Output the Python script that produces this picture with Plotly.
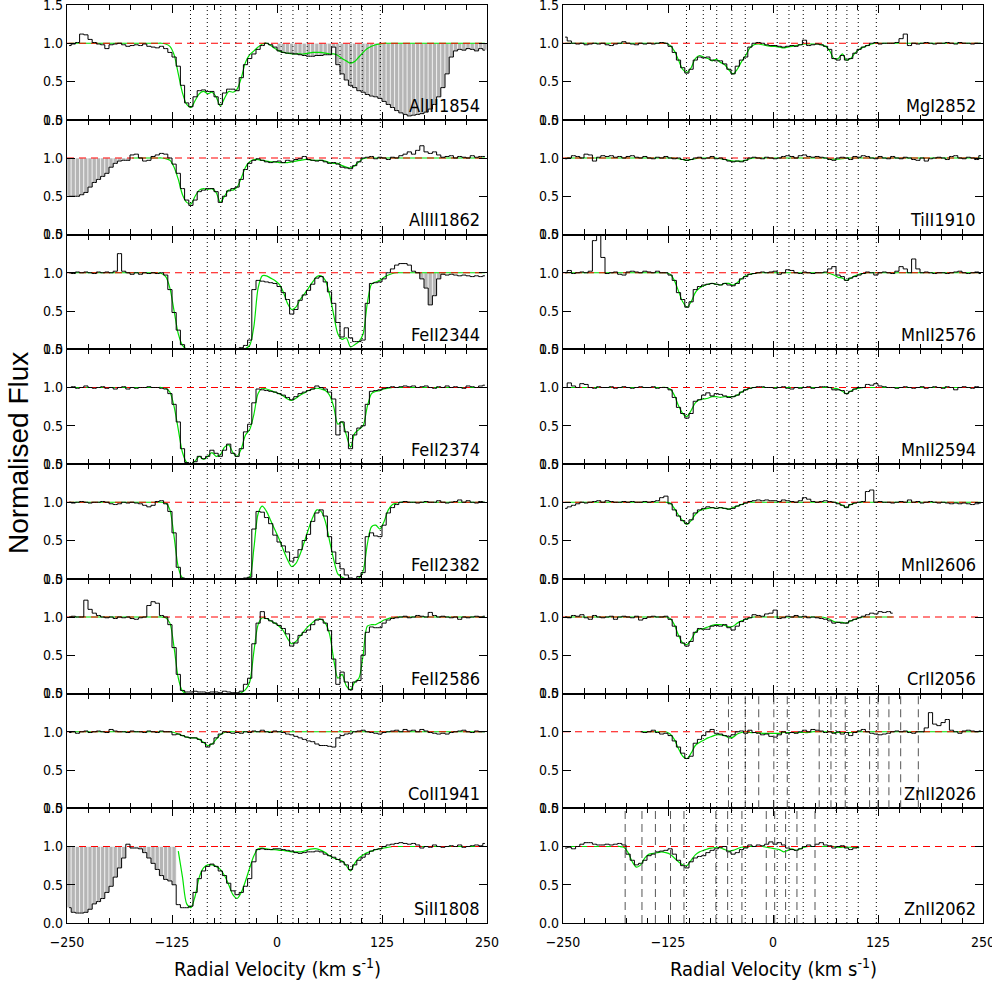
import plotly.graph_objects as go

# ---------------- data ----------------
BIN_WIDTH = 5.0
N_BINS = 100
vel = [-247.5 + BIN_WIDTH * i for i in range(N_BINS)]   # bin centres (km/s)

ONE = [1.0] * 10
NONE = [None] * 10

# component velocities (dotted lines)
components = [-103, -83, -67, -49, -33, 5, 19, 36, 65, 75, 88, 101.5, 123]
# blended-line component velocities (dashed lines) in the Zn panels
zn2026_blend_lines = [-53, -33, -17, 1, 17, 55, 69, 86, 115, 125, 138, 152, 173]
zn2062_blend_lines = [-176, -156, -140, -122, -106, -68, -54, -37, -8, 2, 15, 28.5, 50]

# ---- left column ----
al1854_flux = [
    0.97, 0.99, 1.01, 1.12, 1.11, 1.05, 1.01, 0.99, 0.98, 0.93,
    0.98, 0.99, 1.00, 0.98, 0.96, 0.97, 0.98, 0.97, 0.99, 0.96,
    0.95, 0.94, 0.96, 0.93, 0.88, 0.82, 0.70, 0.45, 0.22, 0.17,
    0.30, 0.38, 0.39, 0.37, 0.37, 0.30, 0.20, 0.35, 0.40, 0.40,
    0.38, 0.55, 0.72, 0.80, 0.86, 0.92, 0.97, 1.00, 0.98, 0.95,
    0.90, 0.88, 0.87, 0.87, 0.86, 0.85, 0.84, 0.83, 0.83, 0.84,
    0.84, 0.85, 0.85, 0.95, 0.72, 0.60, 0.52, 0.45, 0.42, 0.38,
    0.36, 0.33, 0.31, 0.30, 0.28, 0.24, 0.20, 0.16, 0.12, 0.09,
    0.07, 0.05, 0.06, 0.07, 0.08, 0.10, 0.14, 0.20, 0.30, 0.42,
    0.60, 0.82, 0.90, 0.92, 0.91, 0.93, 0.92, 0.90, 0.93, 0.91]
al1854_fit = ONE + ONE + [
    1.00, 1.00, 1.00, 0.99, 0.96, 0.85, 0.60, 0.35, 0.20, 0.16,
    0.25, 0.34, 0.37, 0.34, 0.36, 0.30, 0.18, 0.28, 0.37, 0.36,
    0.40, 0.55, 0.75, 0.85, 0.90, 0.95, 0.99, 1.00, 0.97, 0.93,
    0.90, 0.88, 0.87, 0.86, 0.86, 0.86, 0.86, 0.87, 0.88, 0.88,
    0.88, 0.87, 0.86, 0.86, 0.84, 0.80, 0.77, 0.74, 0.76, 0.82,
    0.88, 0.93, 0.96, 0.98, 0.99, 1.00, 1.00, 1.00, 1.00, 1.00] + ONE + ONE
al1854_blend = (0, 250)

al1862_flux = [
    0.50, 0.50, 0.50, 0.52, 0.55, 0.62, 0.68, 0.72, 0.76, 0.80,
    0.88, 0.93, 0.96, 0.97, 0.97, 1.04, 1.05, 1.00, 0.96, 0.97,
    1.02, 1.04, 1.06, 1.05, 1.00, 0.92, 0.80, 0.60, 0.45, 0.38,
    0.45, 0.56, 0.58, 0.60, 0.60, 0.56, 0.42, 0.50, 0.57, 0.60,
    0.62, 0.72, 0.85, 0.93, 0.97, 0.99, 0.97, 0.95, 0.94, 0.95,
    0.96, 0.94, 0.97, 0.96, 0.98, 0.99, 1.02, 0.98, 0.97, 0.96,
    0.97, 0.95, 0.93, 0.94, 0.92, 0.88, 0.87, 0.86, 0.90, 0.95,
    1.00, 1.01, 1.02, 0.99, 1.01, 1.00, 0.98, 1.01, 1.00, 1.03,
    1.05, 1.08, 1.05, 1.10, 1.16, 1.08, 1.06, 1.08, 1.04, 1.01,
    1.02, 1.03, 1.00, 1.02, 1.01, 1.00, 1.03, 1.01, 1.02, 1.02]
al1862_fit = NONE + [
    None, None, None, None, None, 1.00, 1.00, 1.00, 1.00, 1.00,
    1.00, 1.00, 1.00, 0.99, 0.97, 0.88, 0.72, 0.52, 0.42, 0.40,
    0.50, 0.58, 0.60, 0.59, 0.60, 0.55, 0.42, 0.50, 0.58, 0.58,
    0.62, 0.74, 0.88, 0.95, 0.98, 0.98, 0.97, 0.96, 0.95, 0.95,
    0.94, 0.94, 0.94, 0.95, 0.96, 0.97, 0.98, 0.98, 0.97, 0.97,
    0.97, 0.96, 0.94, 0.93, 0.93, 0.90, 0.88, 0.87, 0.90, 0.95,
    0.99, 1.00, 1.00, 1.00, 1.00, 1.00, 1.00, 1.00, 1.00, 1.00] + ONE + ONE
al1862_blend = (-250, -175)

fe2344_flux = [
    1.00, 0.99, 1.01, 1.00, 1.01, 1.00, 0.99, 1.01, 1.00, 1.01,
    1.00, 1.02, 1.25, 1.02, 1.00, 0.98, 1.00, 0.98, 1.00, 0.99,
    1.00, 0.99, 1.00, 0.97, 0.78, 0.48, 0.25, 0.06, 0.00, 0.00,
    0.00, 0.00, 0.00, 0.00, 0.00, 0.00, 0.00, 0.00, 0.00, 0.00,
    0.00, 0.02, 0.05, 0.12, 0.78, 0.90, 0.89, 0.88, 0.87, 0.86,
    0.82, 0.74, 0.65, 0.46, 0.52, 0.64, 0.71, 0.77, 0.85, 0.93,
    0.95, 0.88, 0.75, 0.60, 0.35, 0.16, 0.28, 0.15, 0.10, 0.10,
    0.12, 0.60, 0.86, 0.87, 0.88, 0.92, 1.00, 1.05, 1.10, 1.12,
    1.12, 1.10, 1.02, 1.00, 0.92, 0.80, 0.58, 0.70, 0.92, 0.98,
    0.97, 0.98, 0.97, 0.96, 0.97, 0.96, 0.95, 0.96, 0.95, 0.96]
fe2344_fit = ONE + ONE + [
    1.00, 1.00, 0.99, 0.95, 0.80, 0.50, 0.20, 0.05, 0.00, 0.00,
    0.00, 0.00, 0.00, 0.00, 0.00, 0.00, 0.00, 0.00, 0.00, 0.00,
    0.00, 0.00, 0.01, 0.05, 0.30, 0.80, 0.96, 0.96, 0.93, 0.90,
    0.85, 0.75, 0.60, 0.52, 0.55, 0.65, 0.72, 0.80, 0.88, 0.95,
    0.96, 0.90, 0.72, 0.45, 0.20, 0.13, 0.15, 0.03, 0.06, 0.10,
    0.20, 0.60, 0.85, 0.88, 0.90, 0.94, 0.97, 0.99, 1.00, 1.00] + ONE + ONE
fe2344_blend = (165, 200)

fe2374_flux = [
    1.00, 1.01, 0.99, 1.00, 1.02, 1.00, 0.99, 1.00, 1.01, 0.99,
    1.00, 0.98, 1.00, 1.01, 0.98, 1.00, 0.99, 1.00, 1.00, 1.01,
    1.00, 1.00, 0.99, 0.98, 0.92, 0.78, 0.55, 0.20, 0.02, 0.00,
    0.03, 0.10, 0.07, 0.10, 0.18, 0.14, 0.10, 0.18, 0.26, 0.14,
    0.10, 0.20, 0.42, 0.52, 0.80, 0.98, 0.97, 0.96, 0.95, 0.94,
    0.92, 0.90, 0.87, 0.84, 0.88, 0.92, 0.94, 0.96, 0.98, 1.02,
    1.00, 0.98, 0.94, 0.85, 0.38, 0.55, 0.42, 0.20, 0.38, 0.47,
    0.50, 0.78, 0.95, 0.96, 0.97, 0.99, 1.00, 1.01, 1.00, 1.01,
    1.02, 1.01, 1.02, 1.00, 1.01, 1.02, 1.00, 0.99, 1.01, 1.00,
    1.02, 1.00, 1.01, 1.00, 0.99, 1.02, 1.01, 1.00, 1.02, 1.03]
fe2374_fit = ONE + ONE + [
    1.00, 1.00, 1.00, 0.99, 0.94, 0.75, 0.45, 0.15, 0.02, 0.00,
    0.04, 0.10, 0.06, 0.10, 0.15, 0.10, 0.12, 0.22, 0.25, 0.15,
    0.10, 0.20, 0.38, 0.45, 0.65, 0.92, 0.99, 0.98, 0.96, 0.94,
    0.92, 0.89, 0.85, 0.83, 0.86, 0.90, 0.93, 0.96, 0.98, 0.99,
    0.98, 0.96, 0.90, 0.75, 0.52, 0.55, 0.38, 0.22, 0.40, 0.45,
    0.50, 0.75, 0.92, 0.95, 0.96, 0.98, 0.99, 1.00, 1.00, 1.00] + ONE + ONE

fe2382_flux = [
    1.00, 0.99, 1.00, 1.01, 1.00, 0.99, 1.00, 1.00, 1.01, 1.00,
    0.98, 0.97, 0.98, 1.00, 0.99, 1.00, 0.99, 0.98, 0.96, 0.94,
    0.96, 1.01, 1.02, 0.98, 0.88, 0.60, 0.15, 0.01, 0.00, 0.00,
    0.00, 0.00, 0.00, 0.00, 0.00, 0.00, 0.00, 0.00, 0.00, 0.00,
    0.00, 0.00, 0.01, 0.02, 0.65, 0.88, 0.87, 0.80, 0.72, 0.57,
    0.48, 0.43, 0.35, 0.23, 0.28, 0.38, 0.50, 0.58, 0.75, 0.86,
    0.90, 0.82, 0.55, 0.35, 0.20, 0.13, 0.05, 0.01, 0.00, 0.03,
    0.08, 0.55, 0.60, 0.56, 0.55, 0.70, 0.86, 0.93, 0.97, 1.00,
    1.01, 1.00, 1.00, 0.99, 1.00, 1.01, 1.00, 1.00, 1.02, 1.00,
    0.99, 1.00, 1.01, 1.03, 1.00, 1.02, 1.00, 0.99, 1.01, 1.00]
fe2382_fit = ONE + ONE + [
    1.00, 1.00, 1.00, 0.99, 0.90, 0.55, 0.15, 0.01, 0.00, 0.00,
    0.00, 0.00, 0.00, 0.00, 0.00, 0.00, 0.00, 0.00, 0.00, 0.00,
    0.00, 0.00, 0.00, 0.02, 0.40, 0.85, 0.95, 0.88, 0.76, 0.64,
    0.52, 0.38, 0.25, 0.16, 0.20, 0.32, 0.48, 0.65, 0.80, 0.90,
    0.88, 0.75, 0.50, 0.25, 0.06, 0.02, 0.00, 0.00, 0.00, 0.01,
    0.10, 0.45, 0.68, 0.70, 0.65, 0.75, 0.90, 0.97, 0.99, 1.00] + ONE + ONE

fe2586_flux = [
    1.00, 1.01, 1.00, 1.00, 1.22, 1.10, 1.05, 1.02, 1.00, 0.99,
    1.00, 0.98, 1.00, 0.99, 1.00, 0.98, 0.97, 0.99, 1.00, 1.15,
    1.20, 1.18, 1.02, 1.00, 0.90, 0.60, 0.25, 0.04, 0.02, 0.02,
    0.03, 0.02, 0.02, 0.01, 0.02, 0.02, 0.01, 0.03, 0.02, 0.01,
    0.01, 0.03, 0.12, 0.20, 0.65, 0.92, 1.07, 0.98, 0.95, 0.92,
    0.89, 0.85, 0.78, 0.62, 0.66, 0.76, 0.80, 0.83, 0.90, 0.96,
    0.97, 0.92, 0.82, 0.45, 0.12, 0.28, 0.15, 0.05, 0.15, 0.17,
    0.50, 0.80, 0.87, 0.86, 0.86, 0.92, 0.96, 0.98, 0.99, 1.00,
    1.01, 0.99, 1.00, 1.02, 1.01, 1.00, 1.06, 1.02, 1.00, 1.01,
    1.00, 0.99, 1.00, 0.97, 1.00, 0.99, 1.00, 1.01, 1.00, 1.01]
fe2586_fit = ONE + ONE + [
    1.00, 1.00, 1.00, 0.99, 0.92, 0.60, 0.20, 0.03, 0.00, 0.00,
    0.00, 0.00, 0.00, 0.00, 0.00, 0.00, 0.00, 0.00, 0.00, 0.00,
    0.00, 0.01, 0.05, 0.15, 0.55, 0.90, 0.99, 0.98, 0.95, 0.92,
    0.88, 0.82, 0.72, 0.65, 0.68, 0.75, 0.82, 0.88, 0.93, 0.97,
    0.97, 0.92, 0.78, 0.45, 0.20, 0.25, 0.10, 0.05, 0.15, 0.20,
    0.50, 0.88, 0.90, 0.90, 0.93, 0.96, 0.98, 0.99, 1.00, 1.00] + ONE + ONE

co1941_flux = [
    0.99, 1.00, 0.98, 1.00, 1.01, 0.99, 1.00, 1.01, 1.00, 0.99,
    1.03, 1.01, 1.00, 1.00, 0.99, 1.01, 1.00, 1.00, 0.99, 1.01,
    1.00, 0.99, 1.01, 1.00, 1.00, 0.96, 0.97, 0.95, 0.93, 0.92,
    0.92, 0.90, 0.86, 0.80, 0.84, 0.92, 0.97, 1.00, 0.99, 0.98,
    0.99, 0.98, 1.00, 0.99, 1.01, 1.00, 1.02, 1.00, 0.99, 1.01,
    1.00, 0.99, 0.97, 0.96, 0.94, 0.92, 0.90, 0.88, 0.87, 0.84,
    0.82, 0.82, 0.81, 0.80, 0.92, 0.95, 0.97, 0.98, 1.00, 1.01,
    1.02, 1.00, 0.99, 0.98, 0.97, 0.99, 1.00, 1.01, 1.02, 1.00,
    1.03, 1.01, 1.02, 1.00, 1.03, 1.01, 0.99, 0.98, 0.97, 0.98,
    0.97, 0.99, 1.00, 1.01, 1.02, 1.00, 0.99, 1.01, 1.00, 1.00]
co1941_fit = ONE + ONE + [
    1.00, 1.00, 1.00, 1.00, 1.00, 0.99, 0.97, 0.95, 0.93, 0.92,
    0.92, 0.90, 0.86, 0.82, 0.84, 0.90, 0.96, 0.99, 1.00, 1.00] + ONE * 6

si1808_flux = [
    0.20, 0.14, 0.13, 0.13, 0.14, 0.18, 0.25, 0.28, 0.32, 0.40,
    0.48, 0.60, 0.72, 0.85, 1.03, 0.98, 0.98, 0.97, 0.92, 0.85,
    0.78, 0.70, 0.62, 0.57, 0.55, 0.50, 0.24, 0.20, 0.20, 0.22,
    0.40, 0.58, 0.68, 0.74, 0.77, 0.74, 0.68, 0.62, 0.52, 0.42,
    0.37, 0.40, 0.48, 0.58, 0.80, 0.96, 0.97, 0.96, 0.96, 0.97,
    0.97, 0.96, 0.95, 0.94, 0.92, 0.91, 0.92, 0.93, 0.93, 0.94,
    0.93, 0.90, 0.88, 0.86, 0.83, 0.80, 0.76, 0.70, 0.76, 0.82,
    0.86, 0.90, 0.94, 0.96, 0.97, 1.00, 1.02, 1.03, 1.04, 1.05,
    1.04, 1.03, 1.04, 1.02, 0.98, 1.00, 0.99, 1.02, 1.00, 0.99,
    1.00, 1.01, 1.00, 1.02, 0.99, 1.00, 1.01, 1.02, 1.01, 1.04]
si1808_fit = NONE + NONE + [
    None, None, None, None, None, None, 0.94, 0.60, 0.25, 0.20,
    0.35, 0.60, 0.72, 0.76, 0.76, 0.74, 0.70, 0.62, 0.50, 0.37,
    0.32, 0.40, 0.55, 0.72, 0.88, 0.97, 0.98, 0.97, 0.96, 0.96,
    0.95, 0.95, 0.94, 0.93, 0.93, 0.93, 0.94, 0.96, 0.97, 0.97,
    0.95, 0.92, 0.88, 0.85, 0.83, 0.81, 0.75, 0.68, 0.78, 0.85,
    0.89, 0.92, 0.94, 0.96, 0.97, 0.98, 0.99, 1.00, 1.00, 1.00] + ONE + ONE
si1808_blend = (-250, -120)

# ---- right column ----
mg2852_flux = [
    1.08, 1.03, 1.00, 0.99, 1.00, 0.98, 0.99, 1.00, 0.99, 1.00,
    0.98, 0.97, 0.99, 1.00, 1.02, 1.00, 0.99, 0.98, 1.00, 0.99,
    1.00, 0.99, 1.00, 1.01, 1.00, 0.96, 0.88, 0.78, 0.68, 0.61,
    0.66, 0.78, 0.82, 0.81, 0.82, 0.78, 0.77, 0.77, 0.73, 0.66,
    0.60, 0.70, 0.78, 0.82, 0.95, 1.00, 1.01, 1.00, 0.98, 0.97,
    0.97, 0.96, 0.95, 0.96, 0.97, 0.96, 0.98, 1.04, 0.97, 0.98,
    0.99, 0.98, 0.96, 0.92, 0.80, 0.78, 0.84, 0.78, 0.80, 0.87,
    0.92, 0.95, 0.97, 1.00, 1.01, 0.99, 1.00, 1.00, 1.00, 1.01,
    1.06, 1.12, 0.97, 1.00, 0.99, 1.00, 1.01, 1.00, 0.99, 1.00,
    1.00, 1.01, 1.00, 0.99, 1.01, 1.00, 1.00, 0.99, 1.00, 1.00]
mg2852_fit = ONE + ONE + [
    1.00, 1.00, 1.00, 1.00, 1.00, 0.97, 0.90, 0.78, 0.66, 0.62,
    0.68, 0.80, 0.84, 0.82, 0.80, 0.77, 0.79, 0.75, 0.72, 0.65,
    0.60, 0.66, 0.76, 0.84, 0.94, 0.98, 0.99, 0.98, 0.97, 0.96,
    0.96, 0.95, 0.94, 0.95, 0.96, 0.97, 0.98, 0.99, 0.99, 0.99,
    0.99, 0.98, 0.96, 0.90, 0.80, 0.80, 0.86, 0.78, 0.80, 0.87,
    0.92, 0.95, 0.97, 0.99, 1.00, 1.00, 1.00, 1.00, 1.00, 1.00] + ONE + ONE

ti1910_flux = [
    0.99, 1.00, 1.03, 1.02, 1.00, 1.05, 1.04, 0.96, 1.01, 1.03,
    1.02, 1.03, 1.01, 1.02, 1.00, 1.02, 1.03, 1.01, 1.00, 1.02,
    1.00, 0.99, 1.01, 1.00, 1.02, 1.00, 0.99, 1.00, 0.98, 0.97,
    0.98, 1.00, 1.01, 0.99, 1.00, 1.02, 0.99, 1.00, 0.98, 0.96,
    0.95, 0.96, 0.95, 0.97, 1.00, 1.01, 1.00, 0.99, 1.01, 1.00,
    0.99, 1.00, 1.02, 1.03, 1.02, 1.00, 1.03, 1.04, 1.02, 1.01,
    1.02, 1.01, 1.00, 0.98, 0.97, 1.00, 1.01, 1.00, 0.98, 1.02,
    1.01, 1.03, 1.02, 1.00, 0.99, 1.02, 1.00, 0.99, 1.02, 1.00,
    0.99, 1.01, 1.00, 0.98, 0.97, 1.00, 0.96, 0.99, 1.00, 1.01,
    1.00, 0.98, 1.02, 1.03, 1.00, 0.99, 1.01, 1.00, 0.98, 1.03]
ti1910_fit = ONE + ONE + [
    1.00, 1.00, 1.00, 1.00, 1.00, 1.00, 1.00, 0.99, 0.98, 0.97,
    0.98, 0.99, 1.00, 1.00, 1.00, 1.00, 1.00, 0.99, 0.98, 0.97,
    0.96, 0.96, 0.96, 0.97, 0.99, 1.00, 1.00, 1.00, 1.00, 1.00] + ONE + [
    1.00, 1.00, 1.00, 0.99, 0.985, 0.985, 0.99, 1.00, 1.00, 1.00] + ONE * 3

mn2576_flux = [
    1.00, 1.03, 0.99, 1.00, 1.01, 1.00, 1.02, 1.42, 1.60, 1.20,
    0.99, 1.00, 1.01, 0.98, 0.97, 1.01, 1.02, 1.01, 1.00, 1.02,
    1.01, 1.00, 1.02, 1.00, 1.00, 0.97, 0.90, 0.74, 0.65, 0.55,
    0.62, 0.78, 0.82, 0.84, 0.85, 0.86, 0.85, 0.84, 0.86, 0.84,
    0.83, 0.86, 0.92, 0.95, 0.98, 0.99, 1.00, 1.01, 1.00, 1.01,
    1.02, 0.98, 1.00, 1.04, 1.03, 1.00, 0.99, 1.01, 1.00, 0.99,
    1.00, 1.00, 1.01, 1.05, 1.08, 0.97, 0.95, 0.90, 0.93, 0.95,
    0.97, 0.99, 1.01, 1.00, 0.97, 1.00, 1.01, 1.00, 0.99, 1.02,
    1.08, 1.05, 1.00, 1.18, 1.05, 1.00, 1.01, 1.00, 0.99, 1.00,
    1.00, 0.99, 1.00, 1.01, 1.02, 1.00, 0.99, 1.00, 1.01, 0.99]
mn2576_fit = ONE + ONE + [
    1.00, 1.00, 1.00, 1.00, 1.00, 0.98, 0.90, 0.76, 0.62, 0.55,
    0.62, 0.74, 0.80, 0.83, 0.85, 0.86, 0.85, 0.84, 0.86, 0.86,
    0.84, 0.87, 0.92, 0.96, 0.98, 0.99, 1.00, 1.00, 1.00, 1.00] + ONE + [
    1.00, 1.00, 1.00, 0.99, 0.97, 0.94, 0.93, 0.90, 0.93, 0.96,
    0.98, 0.99, 1.00, 1.00, 1.00, 1.00, 1.00, 1.00, 1.00, 1.00] + ONE + ONE

mn2594_flux = [
    1.00, 1.06, 1.02, 1.00, 1.05, 1.04, 1.00, 0.99, 1.01, 1.00,
    1.00, 1.01, 0.99, 1.00, 1.01, 1.00, 0.99, 1.00, 1.01, 1.00,
    1.00, 1.01, 0.99, 1.00, 1.00, 0.97, 0.87, 0.74, 0.66, 0.60,
    0.66, 0.82, 0.84, 0.90, 0.93, 0.89, 0.92, 0.91, 0.89, 0.87,
    0.88, 0.90, 0.94, 0.97, 0.99, 1.00, 1.01, 1.01, 1.00, 1.00,
    0.99, 1.00, 1.01, 0.99, 0.98, 1.00, 0.99, 1.00, 1.01, 0.99,
    1.00, 1.01, 1.01, 1.00, 0.97, 0.97, 0.96, 0.92, 0.95, 0.98,
    1.00, 1.00, 1.04, 1.03, 1.05, 1.02, 1.01, 1.00, 1.00, 0.99,
    1.00, 1.01, 1.00, 0.99, 1.00, 1.01, 0.99, 1.00, 1.01, 1.00,
    0.99, 1.01, 1.00, 0.97, 1.00, 1.01, 1.00, 0.99, 1.01, 1.00]
mn2594_fit = ONE + ONE + [
    1.00, 1.00, 1.00, 1.00, 1.00, 0.98, 0.90, 0.76, 0.66, 0.62,
    0.70, 0.80, 0.84, 0.85, 0.86, 0.88, 0.88, 0.87, 0.88, 0.88,
    0.88, 0.90, 0.94, 0.97, 0.99, 1.00, 1.00, 1.00, 1.00, 1.00] + ONE + [
    1.00, 1.00, 1.00, 1.00, 0.99, 0.98, 0.95, 0.92, 0.95, 0.98,
    0.99, 1.00, 1.00, 1.00, 1.00, 1.00, 1.00, 1.00, 1.00, 1.00] + ONE + ONE

mn2606_flux = [
    0.92, 0.94, 0.96, 0.98, 1.00, 0.99, 1.00, 1.01, 1.02, 1.00,
    1.02, 1.01, 1.00, 1.00, 1.01, 1.00, 1.01, 1.00, 1.00, 1.01,
    1.00, 1.01, 1.02, 1.06, 1.08, 0.98, 0.90, 0.82, 0.76, 0.72,
    0.77, 0.86, 0.90, 0.92, 0.94, 0.93, 0.92, 0.93, 0.92, 0.91,
    0.92, 0.95, 0.97, 0.99, 1.01, 1.02, 1.03, 1.02, 1.03, 1.02,
    1.02, 1.01, 1.03, 1.02, 1.01, 1.00, 1.02, 1.06, 1.04, 1.01,
    1.00, 1.01, 1.02, 1.01, 1.00, 0.98, 0.96, 0.93, 0.97, 0.99,
    1.00, 1.01, 1.14, 1.16, 1.00, 1.01, 1.00, 1.00, 0.99, 1.00,
    1.01, 1.00, 1.03, 1.00, 1.01, 0.99, 1.00, 1.01, 1.00, 0.99,
    1.00, 0.99, 0.98, 0.99, 0.98, 0.99, 0.98, 0.97, 0.98, 0.99]
mn2606_fit = ONE + ONE + [
    1.00, 1.00, 1.00, 1.00, 1.00, 0.99, 0.92, 0.83, 0.76, 0.71,
    0.76, 0.84, 0.89, 0.91, 0.92, 0.93, 0.92, 0.93, 0.92, 0.91,
    0.93, 0.95, 0.97, 0.99, 1.00, 1.00, 1.00, 1.00, 1.00, 1.00] + ONE + [
    1.00, 1.00, 1.00, 1.00, 1.00, 0.99, 0.96, 0.93, 0.97, 0.99] + ONE * 3

cr2056_flux = [
    1.00, 0.99, 1.02, 1.01, 1.03, 0.99, 0.97, 1.02, 1.00, 0.99,
    1.00, 1.01, 0.97, 1.00, 1.01, 1.00, 0.99, 1.01, 0.96, 0.98,
    1.00, 1.01, 1.00, 1.00, 1.01, 0.97, 0.88, 0.75, 0.66, 0.62,
    0.68, 0.80, 0.85, 0.84, 0.84, 0.88, 0.89, 0.88, 0.90, 0.86,
    0.83, 0.88, 0.94, 0.97, 0.99, 1.03, 1.02, 1.01, 1.04, 1.05,
    1.09, 0.98, 0.99, 1.01, 1.00, 1.02, 1.00, 1.01, 0.99, 1.00,
    0.99, 0.98, 0.97, 0.95, 0.92, 0.93, 0.92, 0.92, 0.95, 0.97,
    0.99, 1.01, 1.03, 1.05, 1.04, 1.07, 1.06, 1.07, 1.05, None] + NONE + NONE
cr2056_fit = ONE + ONE + [
    1.00, 1.00, 1.00, 1.00, 1.00, 0.98, 0.90, 0.76, 0.66, 0.64,
    0.70, 0.80, 0.84, 0.85, 0.87, 0.89, 0.90, 0.90, 0.89, 0.87,
    0.88, 0.92, 0.95, 0.97, 0.99, 1.00, 1.00, 1.00, 1.00, 1.00] + ONE + [
    1.00, 1.00, 0.99, 0.97, 0.94, 0.93, 0.93, 0.92, 0.95, 0.97,
    0.99, 1.00, 1.00, 1.00, 1.00, 1.00, 1.00, 1.00, 1.00, None] + NONE + NONE

zn2026_flux = NONE + [
    None, None, None, None, None, None, None, None, 1.00, 0.99,
    1.00, 1.02, 0.99, 0.97, 0.98, 0.95, 0.88, 0.80, 0.72, 0.65,
    0.68, 0.85, 0.90, 0.95, 1.00, 1.03, 0.98, 0.97, 0.95, 0.94,
    0.96, 1.00, 1.01, 0.98, 1.02, 0.99, 0.98, 0.96, 0.97, 0.94,
    0.93, 0.96, 1.00, 0.98, 0.99, 0.98, 1.00, 1.02, 1.00, 1.03,
    1.02, 1.01, 0.99, 1.00, 0.98, 1.00, 0.97, 0.99, 0.95, 0.99,
    1.01, 1.03, 1.00, 0.98, 0.97, 0.96, 0.97, 0.98, 1.00, 1.01,
    1.00, 1.01, 0.99, 0.98, 1.00, 1.00, 1.05, 1.25, 1.10, 1.08,
    1.12, 1.16, 1.02, 1.00, 0.98, 1.01, 1.02, 1.01, 1.00, 1.01]
zn2026_fit = NONE + [
    None, None, None, None, None, None, None, None, 1.00, 1.00,
    1.00, 1.00, 1.00, 1.00, 1.00, 0.97, 0.90, 0.78, 0.68, 0.65,
    0.72, 0.82, 0.86, 0.89, 0.92, 0.94, 0.96, 0.96, 0.95, 0.92,
    0.93, 0.97, 0.99, 1.00, 0.99, 0.99, 0.99, 0.98, 0.98, 0.98,
    0.98, 0.98, 0.99, 0.99, 0.99, 0.99, 0.99, 0.99, 0.99, 1.00,
    1.00, 1.00, 1.00, 1.00, 0.99, 0.99, 0.99, 0.99, 0.99, 1.00] + ONE * 3

zn2062_flux = [
    0.98, 0.99, 0.97, 1.00, 1.03, 1.05, 1.05, 1.03, 1.02, 1.02,
    1.03, 1.02, 1.03, 1.04, 1.02, 0.90, 0.82, 0.76, 0.78, 0.82,
    0.88, 0.90, 0.93, 0.94, 0.95, 0.97, 0.90, 0.82, 0.75, 0.72,
    0.80, 0.85, 0.87, 0.88, 0.92, 0.95, 0.97, 0.99, 1.00, 0.93,
    0.90, 0.92, 0.96, 0.98, 1.02, 1.00, 1.02, 1.01, 1.03, 1.06,
    1.03, 1.05, 1.02, 0.98, 0.96, 0.95, 0.97, 1.00, 1.02, 1.00,
    1.03, 1.05, 1.02, 1.01, 0.98, 1.00, 1.01, 0.98, 0.96, 0.98,
    0.99, None, None, None, None, None, None, None, None, None] + NONE + NONE
zn2062_fit = ONE + [
    1.00, 1.00, 1.00, 1.00, 0.99, 0.92, 0.80, 0.73, 0.76, 0.85,
    0.90, 0.91, 0.92, 0.93, 0.92, 0.90, 0.85, 0.80, 0.76, 0.75,
    0.82, 0.89, 0.93, 0.95, 0.97, 0.98, 0.99, 0.98, 0.96, 0.94,
    0.95, 0.97, 0.99, 0.99, 1.00, 1.00, 1.00, 1.00, 0.99, 0.98,
    0.97, 0.96, 0.93, 0.95, 0.97, 0.95, 0.97, 0.99, 1.00, 1.00,
    1.00, 1.00, 1.00, 1.00, 1.00, 0.99, 0.99, 0.99, 0.99, 0.99,
    0.98, None, None, None, None, None, None, None, None, None] + NONE + NONE

LEFT = [
    ("AlIII1854", al1854_flux, al1854_fit, al1854_blend, None),
    ("AlIII1862", al1862_flux, al1862_fit, al1862_blend, None),
    ("FeII2344", fe2344_flux, fe2344_fit, fe2344_blend, None),
    ("FeII2374", fe2374_flux, fe2374_fit, None, None),
    ("FeII2382", fe2382_flux, fe2382_fit, None, None),
    ("FeII2586", fe2586_flux, fe2586_fit, None, None),
    ("CoII1941", co1941_flux, co1941_fit, None, None),
    ("SiII1808", si1808_flux, si1808_fit, si1808_blend, None),
]
RIGHT = [
    ("MgI2852", mg2852_flux, mg2852_fit, None, None),
    ("TiII1910", ti1910_flux, ti1910_fit, None, None),
    ("MnII2576", mn2576_flux, mn2576_fit, None, None),
    ("MnII2594", mn2594_flux, mn2594_fit, None, None),
    ("MnII2606", mn2606_flux, mn2606_fit, None, None),
    ("CrII2056", cr2056_flux, cr2056_fit, None, None),
    ("ZnII2026", zn2026_flux, zn2026_fit, None, zn2026_blend_lines),
    ("ZnII2062", zn2062_flux, zn2062_fit, None, zn2062_blend_lines),
]

# ---------------- layout geometry ----------------
W, H = 992, 989
TOP_PX, PANEL_PX = 5.0, 114.75
XDOM = [[67 / W, 487 / W], [563 / W, 983 / W]]
NARROW = "Liberation Sans Narrow, Arial Narrow, DejaVu Sans Condensed, sans-serif"

fig = go.Figure()
layout = {}
shapes = []
annotations = []

for col, panels in enumerate([LEFT, RIGHT]):
    for r, (label, flux, fit, blend, extra) in enumerate(panels):
        k = col * 8 + r + 1
        s = "" if k == 1 else str(k)
        xr, yr = "x" + s, "y" + s
        y_top = 1 - (TOP_PX + r * PANEL_PX) / H
        y_bot = 1 - (TOP_PX + (r + 1) * PANEL_PX) / H
        bottom = (r == 7)

        fig.add_trace(go.Scatter(x=vel, y=fit, mode="lines", xaxis=xr, yaxis=yr,
                                 line=dict(color="#00e000", width=1.2, shape="spline", smoothing=0.8),
                                 hoverinfo="skip"))
        if blend:
            bx, by, bb = [], [], []
            for v, f in zip(vel, flux):
                if f is not None and blend[0] <= v <= blend[1] and f < 1:
                    bx.append(v); by.append(1 - f); bb.append(f)
            fig.add_trace(go.Bar(x=bx, y=by, base=bb, width=BIN_WIDTH, xaxis=xr, yaxis=yr,
                                 marker=dict(color="#b5b5b5", line=dict(color="white", width=0.6)),
                                 hoverinfo="skip"))
        fig.add_trace(go.Scatter(x=[-250, 250], y=[1, 1], mode="lines", xaxis=xr, yaxis=yr,
                                 line=dict(color="#ff0000", width=1.2, dash="7px,5px"), hoverinfo="skip"))
        fig.add_trace(go.Scatter(x=vel, y=flux, mode="lines", xaxis=xr, yaxis=yr,
                                 line=dict(color="black", width=1, shape="hvh"), hoverinfo="skip"))

        if extra:
            for v in extra:
                shapes.append(dict(type="line", xref=xr, yref=yr + " domain", x0=v, x1=v, y0=0, y1=1,
                                   line=dict(color="#555555", width=1, dash="8px,5px"), layer="above"))

        layout["xaxis" + s] = dict(
            domain=XDOM[col], range=[-250, 250], anchor=yr, tick0=-250, dtick=125,
            ticks="inside", ticklen=8, tickwidth=1, tickcolor="black",
            minor=dict(dtick=25, tick0=-250, ticks="inside", ticklen=5, tickcolor="black", tickwidth=1),
            showline=True, linecolor="black", linewidth=1.2, mirror="ticks",
            showgrid=False, zeroline=False, showticklabels=bottom, automargin=False,
            ticklabeloverflow="allow",
            tickfont=dict(family=NARROW, size=14, color="black"),
            ticklabelstandoff=6, fixedrange=True)
        layout["yaxis" + s] = dict(
            domain=[y_bot, y_top], range=[0, 1.5], anchor=xr, tick0=0, dtick=0.5, tickformat=".1f",
            ticks="inside", ticklen=8, tickwidth=1, tickcolor="black",
            showline=True, linecolor="black", linewidth=1.2, mirror="ticks",
            showgrid=False, zeroline=False, automargin=False, ticklabeloverflow="allow",
            tickfont=dict(family=NARROW, size=14, color="black"), fixedrange=True)

        annotations.append(dict(x=244, y=0.19, xref=xr, yref=yr, text=label, showarrow=False,
                                xanchor="right", yanchor="middle",
                                font=dict(family=NARROW, size=18, color="black")))

    # dotted component lines through the whole column
    xr_col = "x" if col == 0 else "x9"
    for v in components:
        shapes.append(dict(type="line", xref=xr_col, yref="paper", x0=v, x1=v,
                           y0=1 - (TOP_PX + 8 * PANEL_PX) / H, y1=1 - TOP_PX / H,
                           line=dict(color="black", width=1, dash="1px,3px"), layer="above"))
    annotations.append(dict(x=(XDOM[col][0] + XDOM[col][1]) / 2, y=1 - 968 / H, xref="paper", yref="paper",
                            text="Radial Velocity (km s<sup>-1</sup>)", showarrow=False,
                            xanchor="center", yanchor="middle",
                            font=dict(family=NARROW, size=20, color="black")))

annotations.append(dict(x=18 / W, y=1 - 453 / H, xref="paper", yref="paper", text="Normalised Flux",
                        showarrow=False, textangle=-90, xanchor="center", yanchor="middle",
                        font=dict(family="Liberation Sans, Arial, sans-serif", size=28, color="black")))

fig.update_layout(width=W, height=H, margin=dict(l=0, r=0, t=0, b=0, autoexpand=False),
                  paper_bgcolor="white", plot_bgcolor="white", showlegend=False,
                  shapes=shapes, annotations=annotations, barmode="overlay", **layout)

fig.write_html("out.html", config={"displayModeBar": False},
               post_script="document.body.style.margin='0px';")
